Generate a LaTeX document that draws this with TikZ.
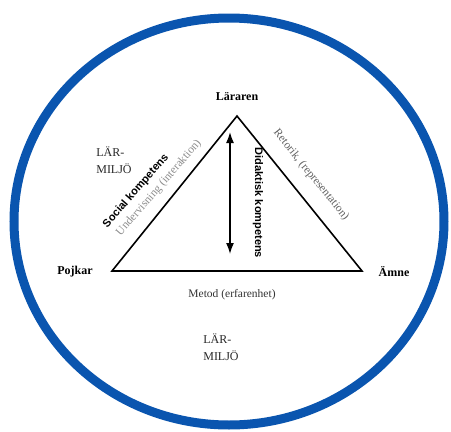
\documentclass[tikz,border=0pt]{standalone}
\usepackage{fontspec}
\setmainfont{Liberation Serif}
\setsansfont{Liberation Sans}
\usetikzlibrary{arrows.meta}
\tikzset{
	>={Latex[length=11pt,width=8pt]},
}
\definecolor{ringblue}{RGB}{10,85,175}
\tikzstyle{corner}=[font=\fontsize{12}{14}\selectfont\bfseries]
\tikzstyle{miljo}=[align=left,font=\fontsize{12}{17}\selectfont,text=black!85]
\tikzstyle{kompetens}=[font=\sffamily\bfseries\fontsize{11}{13}\selectfont]
\tikzstyle{side}=[font=\fontsize{11.5}{13}\selectfont]

\begin{document}
\begin{tikzpicture}[x=1pt,y=-1pt]
      \useasboundingbox (0,0) rectangle (451,432);
      \draw[ringblue,line width=9pt] (229,221.5) ellipse [x radius=215pt, y radius=203.5pt];
      \coordinate (top) at (237,116);
      \coordinate (left) at (112,271);
      \coordinate (right) at (362,271);
      \draw[line width=1.6pt] (top)--(left)--(right)--cycle;
      \coordinate (up) at (230,132);
      \coordinate (down) at (230,254);
      \draw[<->,line width=1.5pt] (up)--(down);
      \node[corner] (larare) at (237,97) {Läraren};
      \node[corner] (pojkar) at (75,272) {Pojkar};
      \node[corner] (amne) at (394,272) {Ämne};
      \node[side,text=black!80] (metod) at (232,295) {Metod (erfarenhet)};
      \node[miljo] (miljo1) at (114,160) {LÄR-\\MILJÖ};
      \node[miljo] (miljo2) at (221,347) {LÄR-\\MILJÖ};
      \node[kompetens,rotate=49] (social) at (136,191) {Social kompetens};
      \node[side,text=black!45,rotate=49] (underv) at (159,188) {Undervisning (interaktion)};
      \node[side,text=black!62,rotate=-51] (retorik) at (311,175) {Retorik, (representation)};
      \node[kompetens,rotate=-90] (didaktisk) at (258,203) {Didaktisk kompetens};
    \end{tikzpicture}
\end{document}
